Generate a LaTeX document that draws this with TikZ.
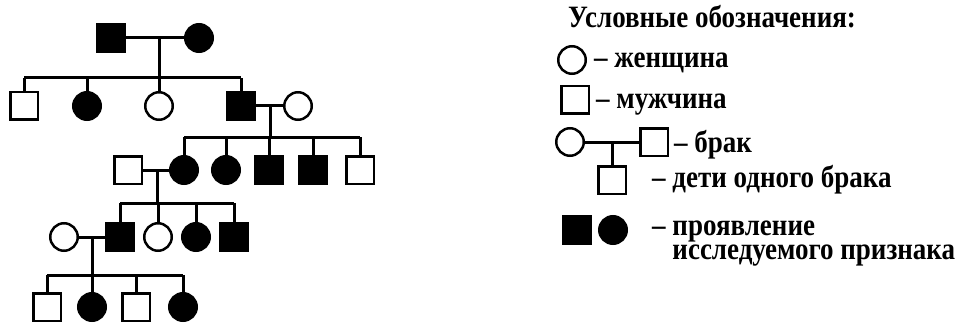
\documentclass[tikz,border=0pt]{standalone}
\usepackage{fontspec}
\setmainfont{Liberation Serif}
\newcommand\lgtxt[1]{\scalebox{1}[1.15]{#1}}
\begin{document}
\begin{tikzpicture}[x=1pt,y=-1pt,
  ind/.style={inner sep=0pt,minimum size=27.5pt,line width=2.5pt,draw=black},
  osq/.style={ind,rectangle,fill=white},
  fsq/.style={ind,rectangle,fill=black},
  oci/.style={ind,circle,fill=white},
  fci/.style={ind,circle,fill=black},
  ln/.style={line width=3pt,draw=black},
  lbl/.style={inner sep=0pt,anchor=base west,font=\fontsize{27pt}{21.7pt}\selectfont\bfseries}]
\useasboundingbox (0,0) rectangle (968,326);
% Generation I
\coordinate (m1) at (159,38);
\coordinate (s1) at (159,78);
% Generation II
\coordinate (m2) at (270,106);
\coordinate (s2) at (270,137);
% Generation III
\coordinate (m3) at (157,170);
\coordinate (s3) at (157,203);
% Generation IV
\coordinate (m4) at (92,237);
\coordinate (s4) at (92,275);
% nodes
\node[fsq] (A1) at (111,38) {};
\node[fci] (A2) at (199,38) {};
\node[osq] (B1) at (24,106) {};
\node[fci] (B2) at (87,106) {};
\node[oci] (B3) at (159,106) {};
\node[fsq] (B4) at (241,106) {};
\node[oci] (B5) at (298,106) {};
\node[osq] (C0) at (128,170) {};
\node[fci] (C1) at (184,170) {};
\node[fci] (C2) at (226,170) {};
\node[fsq] (C3) at (269,170) {};
\node[fsq] (C4) at (313,170) {};
\node[osq] (C5) at (360,170) {};
\node[oci] (D0) at (64,237) {};
\node[fsq] (D1) at (120,237) {};
\node[oci] (D2) at (158,237) {};
\node[fci] (D3) at (196,237) {};
\node[fsq] (D4) at (234,237) {};
\node[osq] (E1) at (47,307) {};
\node[fci] (E2) at (92,307) {};
\node[osq] (E3) at (136,307) {};
\node[fci] (E4) at (183,307) {};
% connectors
\draw[ln] (A1) -- (A2);
\draw[ln] (m1) -- (s1);
\draw[ln] (B1 |- s1) -- (B4 |- s1);
\foreach \c in {B1,B2,B3,B4} \draw[ln] (\c.north) -- (\c |- s1);
\draw[ln] (B4) -- (B5);
\draw[ln] (m2) -- (s2);
\draw[ln] (C1 |- s2) -- (C5 |- s2);
\foreach \c in {C1,C2,C3,C4,C5} \draw[ln] (\c.north) -- (\c |- s2);
\draw[ln] (C0) -- (C1);
\draw[ln] (m3) -- (s3);
\draw[ln] (D1 |- s3) -- (D4 |- s3);
\foreach \c in {D1,D2,D3,D4} \draw[ln] (\c.north) -- (\c |- s3);
\draw[ln] (D0) -- (D1);
\draw[ln] (m4) -- (s4);
\draw[ln] (E1 |- s4) -- (E4 |- s4);
\foreach \c in {E1,E2,E3,E4} \draw[ln] (\c.north) -- (\c |- s4);
% legend
\node[lbl] (T0) at (568,28) {\lgtxt{Условные обозначения:}};
\node[oci] (L1) at (572,60) {};
\node[lbl] (T1) at (594,68) {\lgtxt{– женщина}};
\node[osq] (L2) at (575,100) {};
\node[lbl] (T2) at (596,109) {\lgtxt{– мужчина}};
\coordinate (lm) at (612,142);
\node[oci] (L3a) at (570,142) {};
\node[osq] (L3b) at (654,142) {};
\node[osq] (L3c) at (612,180) {};
\draw[ln] (L3a) -- (L3b);
\draw[ln] (lm) -- (L3c);
\node[lbl] (T3) at (674,152) {\lgtxt{– брак}};
\node[lbl] (T4) at (652,187) {\lgtxt{– дети одного брака}};
\node[fsq] (L4a) at (577,230) {};
\node[fci] (L4b) at (613,230) {};
\node[lbl] (T5) at (652,235) {\lgtxt{\begin{tabular}[t]{@{}l@{}}– проявление\\\phantom{– }исследуемого признака\end{tabular}}};
\end{tikzpicture}
\end{document}
